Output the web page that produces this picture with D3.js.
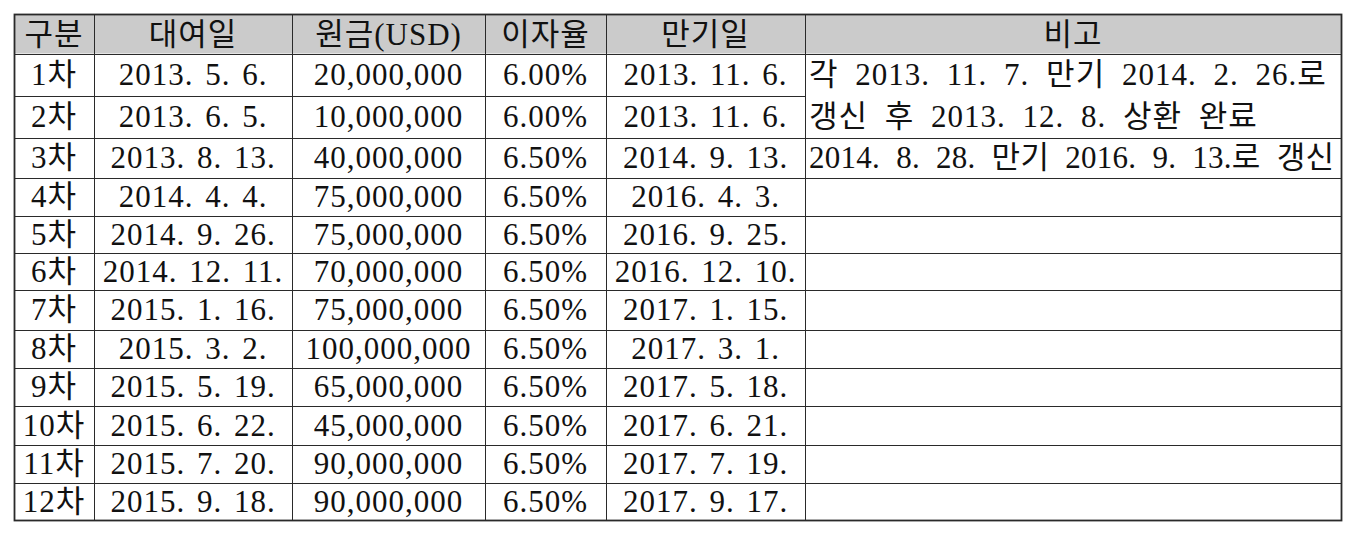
<!DOCTYPE html>
<html>
<head>
<meta charset="utf-8">
<script src="https://cdn.jsdelivr.net/npm/d3@7"></script>
<style>
  html, body { margin: 0; padding: 0; background: #fff; }
  svg text { font-family: "Liberation Serif", "DejaVu Serif", "Noto Sans CJK KR", serif; fill: #111; }
</style>
</head>
<body>
<div id="chart"></div>
<script>
// table data
const headers = ['구분', '대여일', '원금(USD)', '이자율', '만기일', '비고'];
const rounds = ['1차', '2차', '3차', '4차', '5차', '6차', '7차', '8차', '9차', '10차', '11차', '12차'];
const loanDates = ['2013. 5. 6.', '2013. 6. 5.', '2013. 8. 13.', '2014. 4. 4.', '2014. 9. 26.', '2014. 12. 11.',
  '2015. 1. 16.', '2015. 3. 2.', '2015. 5. 19.', '2015. 6. 22.', '2015. 7. 20.', '2015. 9. 18.'];
const principals = [20000000, 10000000, 40000000, 75000000, 75000000, 70000000,
  75000000, 100000000, 65000000, 45000000, 90000000, 90000000];
const rates = [6.00, 6.00, 6.50, 6.50, 6.50, 6.50, 6.50, 6.50, 6.50, 6.50, 6.50, 6.50];
const maturities = ['2013. 11. 6.', '2013. 11. 6.', '2014. 9. 13.', '2016. 4. 3.', '2016. 9. 25.', '2016. 12. 10.',
  '2017. 1. 15.', '2017. 3. 1.', '2017. 5. 18.', '2017. 6. 21.', '2017. 7. 19.', '2017. 9. 17.'];
// remarks: {from row, span rows, lines}
const remarks = [
  {row: 0, span: 2, lines: ['각 2013. 11. 7. 만기 2014. 2. 26.로', '갱신 후 2013. 12. 8. 상환 완료']},
  {row: 2, span: 1, lines: ['2014. 8. 28. 만기 2016. 9. 13.로 갱신']}
];

const width = 1356, height = 535;
// grid layout (header row + 12 rows, rows are not all the same height)
const colEdges = [14, 94, 292, 485, 606, 805, 1341];
const rowEdges = [14.5, 53.5, 96, 137.5, 177.5, 216, 252.5, 290, 329.5, 367.5, 406, 444.5, 482.5, 520.5];
const fontSize = 31;

const svg = d3.select('#chart').append('svg')
  .attr('width', width)
  .attr('height', height);

const tableTop = rowEdges[0], tableBottom = rowEdges[rowEdges.length - 1];
const rowTop = r => rowEdges[r];
const rowMid = r => (rowEdges[r] + rowEdges[r + 1]) / 2;

const fmtNum = d3.format(',');
const fmtPct = d => d3.format('.2f')(d) + '%';

const rows = rounds.map((r, i) => [r, loanDates[i], fmtNum(principals[i]), fmtPct(rates[i]), maturities[i]]);

// header background
svg.append('rect')
  .attr('x', colEdges[0])
  .attr('y', rowTop(0))
  .attr('width', colEdges[6] - colEdges[0])
  .attr('height', rowTop(1) - rowTop(0))
  .attr('fill', '#cbcbcb');

const grid = svg.append('g')
  .attr('stroke', '#2a2a2a')
  .attr('stroke-width', 1.2)
  .attr('shape-rendering', 'crispEdges');

// horizontal lines (stop at the remarks column inside merged cells)
d3.range(1, rounds.length + 1).forEach(i => {
  const merged = remarks.find(m => i > m.row + 1 && i < m.row + 1 + m.span);
  grid.append('line')
    .attr('x1', colEdges[0])
    .attr('x2', merged ? colEdges[5] : colEdges[6])
    .attr('y1', Math.round(rowTop(i)) + 0.5)
    .attr('y2', Math.round(rowTop(i)) + 0.5);
});

// vertical lines
colEdges.slice(1, -1).forEach(cx => {
  grid.append('line')
    .attr('x1', cx + 0.5).attr('x2', cx + 0.5)
    .attr('y1', tableTop).attr('y2', tableBottom);
});

// outer border
svg.append('rect')
  .attr('x', colEdges[0] + 0.5)
  .attr('y', tableTop)
  .attr('width', colEdges[6] - colEdges[0])
  .attr('height', tableBottom - tableTop)
  .attr('fill', 'none')
  .attr('stroke', '#2a2a2a')
  .attr('stroke-width', 1.8);

const center = i => (colEdges[i] + colEdges[i + 1]) / 2;
const baseline = r => rowMid(r) + fontSize * 0.34;

// header texts
svg.append('g').selectAll('text')
  .data(headers)
  .join('text')
  .attr('x', (d, i) => center(i))
  .attr('y', baseline(0))
  .attr('text-anchor', 'middle')
  .attr('font-size', fontSize)
  .attr('letter-spacing', 1)
  .text(d => d);

// body cells
const body = svg.append('g');
rows.forEach((cells, r) => {
  body.append('g').selectAll('text')
    .data(cells)
    .join('text')
    .attr('x', (d, i) => center(i))
    .attr('y', baseline(r + 1))
    .attr('text-anchor', 'middle')
    .attr('font-size', fontSize)
    .attr('letter-spacing', 1)
    .attr('word-spacing', 3)
    .text(d => d);
});

// remarks, squeezed into the cell if too long
const maxLen = colEdges[6] - colEdges[5] - 10;
remarks.forEach(m => {
  m.lines.forEach((line, k) => {
    const t = svg.append('text')
      .attr('x', colEdges[5] + 4)
      .attr('y', baseline(m.row + 1 + k))
      .attr('font-size', fontSize)
      .attr('letter-spacing', 1)
      .attr('word-spacing', 8)
      .text(line);
    if (t.node().getComputedTextLength() > maxLen) {
      t.attr('textLength', maxLen).attr('lengthAdjust', 'spacing');
    }
  });
});
</script>
</body>
</html>
